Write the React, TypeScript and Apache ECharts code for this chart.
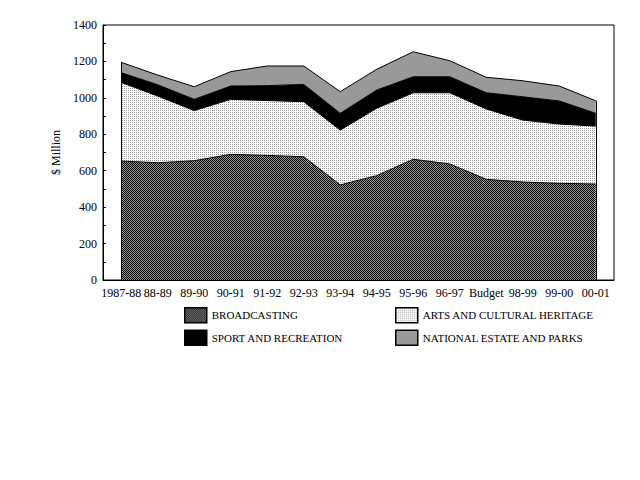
import React, { useEffect, useRef } from "react";
import * as echarts from "echarts";

const categories = ["1987-88", "88-89", "89-90", "90-91", "91-92", "92-93", "93-94", "94-95", "95-96", "96-97", "Budget", "98-99", "99-00", "00-01"];
const broadcasting = [653, 644, 655, 690, 684, 677, 522, 573, 663, 637, 553, 538, 531, 527];
const arts = [432, 366, 275, 302, 301, 302, 301, 370, 365, 391, 386, 340, 325, 318];
const sport = [53, 62, 62, 73, 82, 95, 92, 100, 88, 88, 89, 128, 127, 70];
const national = [57, 53, 69, 79, 108, 101, 119, 114, 137, 88, 85, 88, 82, 69];
const yTicks = [0, 200, 400, 600, 800, 1000, 1200, 1400];

const NAMES = ["BROADCASTING", "ARTS AND CULTURAL HERITAGE", "SPORT AND RECREATION", "NATIONAL ESTATE AND PARKS"];

function makePattern(kind: "checker" | "dots"): any {
  const c = document.createElement("canvas");
  c.width = 2;
  c.height = 2;
  const ctx = c.getContext("2d")!;
  if (kind === "checker") {
    ctx.fillStyle = "#999999";
    ctx.fillRect(0, 0, 2, 2);
    ctx.fillStyle = "#000000";
    ctx.fillRect(0, 0, 1, 1);
    ctx.fillRect(1, 1, 1, 1);
  } else {
    ctx.fillStyle = "#ffffff";
    ctx.fillRect(0, 0, 2, 2);
    ctx.fillStyle = "#999999";
    ctx.fillRect(0, 0, 1, 1);
  }
  return { image: c, repeat: "repeat" };
}

export default function App() {
  const ref = useRef<HTMLDivElement>(null);
  useEffect(() => {
    if (!ref.current) return;
    const chart = echarts.init(ref.current, undefined, { renderer: "svg" });
    const checker = makePattern("checker");
    const dots = makePattern("dots");
    const fills = [checker, dots, "#000000", "#999999"];
    const values = [broadcasting, arts, sport, national];
    const totals = categories.map((_, i) => broadcasting[i] + arts[i] + sport[i] + national[i]);
    const last = categories.length - 1;
    const font = "Liberation Serif";

    const series: any[] = values.map((v, k) => ({
      name: NAMES[k],
      type: "line",
      stack: "total",
      data: v,
      symbol: "none",
      lineStyle: { color: "#000", width: 1 },
      itemStyle: { color: fills[k] },
      areaStyle: { color: fills[k], opacity: 1 },
      z: 2,
    }));
    series[3].markLine = {
      silent: true,
      symbol: "none",
      label: { show: false },
      lineStyle: { color: "#000", width: 1, type: "solid" },
      data: [
        [{ coord: [categories[0], 0] }, { coord: [categories[0], totals[0]] }],
        [{ coord: [categories[last], 0] }, { coord: [categories[last], totals[last]] }],
      ],
    };

    const legendCommon = {
      orient: "vertical",
      icon: "rect",
      padding: 0,
      itemWidth: 22,
      itemHeight: 15,
      itemGap: 6,
      textStyle: { fontFamily: font, fontSize: 11, color: "#000" },
      itemStyle: { borderColor: "#000", borderWidth: 1.5 },
      selectedMode: false,
    };

    chart.setOption({
      animation: false,
      backgroundColor: "#fff",
      textStyle: { fontFamily: font },
      grid: { left: 103, right: 26, top: 25, bottom: 200, show: true, borderColor: "#000", borderWidth: 1, backgroundColor: "transparent" },
      legend: [
        { ...legendCommon, left: 184, top: 307, data: [
          { name: NAMES[0], itemStyle: { color: checker } },
          { name: NAMES[2], itemStyle: { color: "#000" } },
        ] },
        { ...legendCommon, left: 395, top: 307, data: [
          { name: NAMES[1], itemStyle: { color: dots } },
          { name: NAMES[3], itemStyle: { color: "#999999" } },
        ] },
      ],
      xAxis: {
        type: "category",
        data: categories,
        boundaryGap: true,
        axisLine: { lineStyle: { color: "#000", width: 1 } },
        axisTick: { show: false },
        axisLabel: { color: "#000", fontFamily: font, fontSize: 12, margin: 7, interval: 0 },
        splitLine: { show: false },
      },
      yAxis: {
        type: "value",
        min: 0,
        max: 1400,
        interval: 100,
        name: "$ Million",
        nameLocation: "middle",
        nameGap: 39,
        nameRotate: 90,
        nameTextStyle: { color: "#000", fontFamily: font, fontSize: 12 },
        axisLine: { show: true, lineStyle: { color: "#000", width: 1 } },
        axisTick: { show: true, inside: true, length: 3, lineStyle: { color: "#000" } },
        axisLabel: {
          color: "#000",
          fontFamily: font,
          fontSize: 12,
          margin: 6,
          formatter: (v: number) => (yTicks.indexOf(v) >= 0 ? String(v) : ""),
        },
        splitLine: { show: false },
      },
      series,
    });
    return () => chart.dispose();
  }, []);
  return <div ref={ref} style={{ position: "fixed", left: 0, top: 0, width: 640, height: 480, background: "#fff" }} />;
}
